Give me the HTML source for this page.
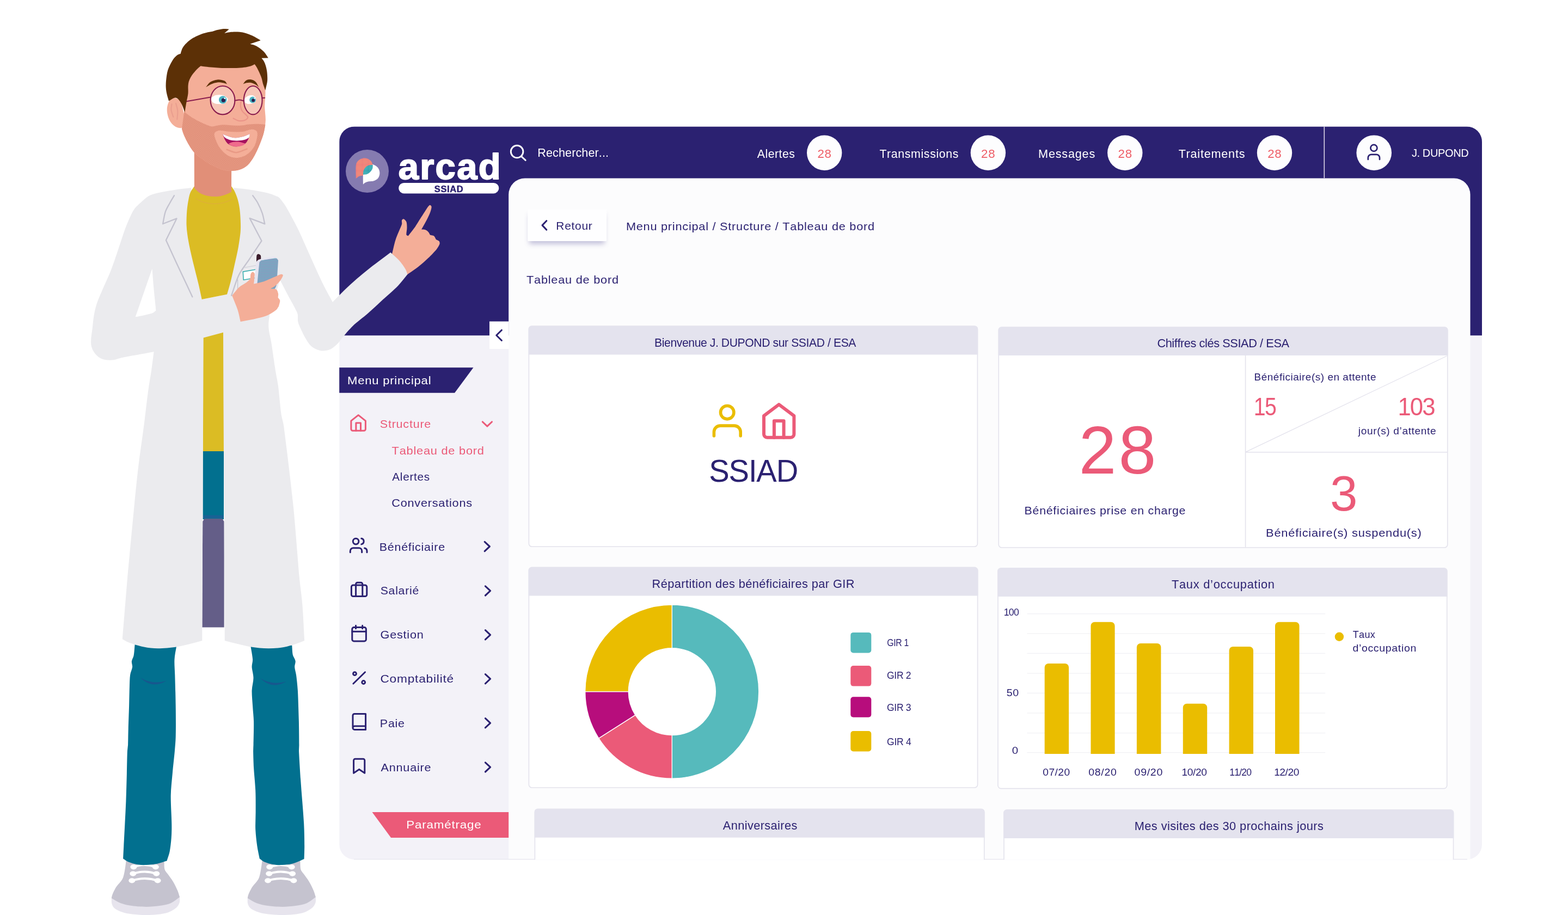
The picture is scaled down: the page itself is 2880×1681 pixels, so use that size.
<!DOCTYPE html>
<html lang="fr"><head><meta charset="utf-8"><title>arcad SSIAD - Tableau de bord</title>
<style>
html,body{margin:0;padding:0;background:#ffffff;}
body{width:2880px;height:1681px;overflow:hidden;}
svg{display:block;font-family:"Liberation Sans",Arial,Helvetica,sans-serif;font-kerning:none;}
text{white-space:pre;}
</style></head><body>
<svg width="2880" height="1681" viewBox="0 0 2880 1681">
<clipPath id="outer"><rect x="623.2" y="232.4" width="2098.8" height="1346.8" rx="28" ry="28"/></clipPath>
<g clip-path="url(#outer)">
<rect x="623.2" y="232.4" width="2098.8" height="1346.8" fill="#f3f2f8"/>
<rect x="623.2" y="232.4" width="2098.8" height="383.9" fill="#2b2171"/>
<path d="M934.2,1600 V357.5 a30,30 0 0 1 30,-30 H2670.5 a30,30 0 0 1 30,30 V1600 Z" fill="#fcfcfd"/>
</g>
<path d="M650,1578.6000000000001 H2695" stroke="#e6e5ee" stroke-width="1.2" fill="none"/>
<rect x="971.4" y="599" width="824.0000000000001" height="405.29999999999995" rx="5.5" fill="#ffffff" stroke="#e3e2ec" stroke-width="1.6"/>
<path d="M970.6,651.6 V604.5 a5.5,5.5 0 0 1 5.5,-5.5 H1790.7 a5.5,5.5 0 0 1 5.5,5.5 V651.6 Z" fill="#e4e3ee"/>
<text transform="translate(1203.80,637.10) scale(0.9717,1)" x="-1.79" y="0" font-size="21.80" fill="#2b2171" letter-spacing="-0.436" >Bienvenue J. DUPOND sur SSIAD / ESA</text>
<rect x="1834.3" y="601" width="824.3999999999999" height="405" rx="5.5" fill="#ffffff" stroke="#e3e2ec" stroke-width="1.6"/>
<path d="M1833.5,653 V606.5 a5.5,5.5 0 0 1 5.5,-5.5 H2654.0 a5.5,5.5 0 0 1 5.5,5.5 V653 Z" fill="#e4e3ee"/>
<text x="2125.39" y="637.90" font-size="21.80" fill="#2b2171" letter-spacing="-0.436" >Chiffres clés SSIAD / ESA</text>
<rect x="971.4" y="1042.4" width="824.1999999999999" height="404.5999999999999" rx="5.5" fill="#ffffff" stroke="#e3e2ec" stroke-width="1.6"/>
<path d="M970.6,1094.6 V1047.9 a5.5,5.5 0 0 1 5.5,-5.5 H1790.8999999999999 a5.5,5.5 0 0 1 5.5,5.5 V1094.6 Z" fill="#e4e3ee"/>
<text x="1197.61" y="1080.40" font-size="21.80" fill="#2b2171" letter-spacing="0.401" >Répartition des bénéficiaires par GIR</text>
<rect x="1833" y="1043.7" width="824.6999999999998" height="404.89999999999986" rx="5.5" fill="#ffffff" stroke="#e3e2ec" stroke-width="1.6"/>
<path d="M1832.2,1095.9 V1049.2 a5.5,5.5 0 0 1 5.5,-5.5 H2653.0 a5.5,5.5 0 0 1 5.5,5.5 V1095.9 Z" fill="#e4e3ee"/>
<text x="2151.91" y="1081.20" font-size="21.80" fill="#2b2171" letter-spacing="0.761" >Taux d’occupation</text>
<clipPath id="cb"><rect x="900" y="1400" width="1900" height="179.2"/></clipPath><g clip-path="url(#cb)">
<rect x="982.4" y="1486.2" width="825.4" height="213.79999999999995" rx="5.5" fill="#ffffff" stroke="#e3e2ec" stroke-width="1.6"/>
<path d="M981.6,1538.8 V1491.7 a5.5,5.5 0 0 1 5.5,-5.5 H1803.1 a5.5,5.5 0 0 1 5.5,5.5 V1538.8 Z" fill="#e4e3ee"/>
<text x="1327.76" y="1523.70" font-size="21.80" fill="#2b2171" letter-spacing="0.380" >Anniversaires</text>
<rect x="1844" y="1487.8" width="825.5" height="212.20000000000005" rx="5.5" fill="#ffffff" stroke="#e3e2ec" stroke-width="1.6"/>
<path d="M1843.2,1540 V1493.3 a5.5,5.5 0 0 1 5.5,-5.5 H2664.8 a5.5,5.5 0 0 1 5.5,5.5 V1540 Z" fill="#e4e3ee"/>
<text x="2083.71" y="1524.50" font-size="21.80" fill="#2b2171" letter-spacing="0.423" >Mes visites des 30 prochains jours</text>
</g>
<g id="logo">
<defs><pattern id="dots1" width="2.2" height="2.2" patternUnits="userSpaceOnUse"><rect width="2.2" height="2.2" fill="#f1907a"/><circle cx="1.1" cy="1.1" r="0.62" fill="#ee5f7c"/></pattern><pattern id="dots2" width="2.2" height="2.2" patternUnits="userSpaceOnUse"><rect width="2.2" height="2.2" fill="#55c3c6"/><circle cx="1.1" cy="1.1" r="0.72" fill="#0f7c93"/></pattern></defs>
<circle cx="674.5" cy="314.6" r="39.5" fill="#857bb0"/>
<path d="M666.9,338.7C666.9,332.5 666.5,325.1 666.9,320.2C667.2,316.6 667.5,312.4 669.3,309.5C671.1,306.6 674.8,304.2 677.6,303.0C680.2,301.9 683.3,301.5 686.0,302.4C688.7,303.3 692.4,305.8 694.3,308.3C696.2,310.9 697.4,314.7 697.4,317.9C697.4,321.0 696.2,325.0 694.3,327.4C692.4,329.8 688.7,331.4 686.0,332.4C683.3,333.3 680.2,332.8 677.6,333.3C675.2,333.9 672.3,334.8 670.5,335.7C669.1,336.4 668.1,337.7 666.9,338.7Z" fill="#ffffff"/>
<path d="M653.8,328.0C653.8,319.8 653.2,308.9 653.8,303.6C654.1,300.7 655.4,297.9 657.4,295.8C659.4,293.8 662.7,291.8 665.7,291.1C668.7,290.3 672.6,290.5 675.2,291.4C677.8,292.3 680.2,294.6 681.8,296.4C683.2,298.1 683.8,300.4 684.8,302.4C681.6,303.6 678.0,304.0 675.2,306.0C672.5,307.9 669.5,311.5 668.1,314.3C666.8,316.8 667.3,319.8 666.9,322.6C664.5,323.0 661.9,322.9 659.8,323.8C657.6,324.7 655.8,326.6 653.8,328.0Z" fill="url(#dots1)"/>
<path d="M666.9,320.8C667.2,318.3 667.0,315.5 667.9,313.1C668.8,310.7 670.4,308.2 672.3,306.5C674.1,304.9 676.7,303.9 678.8,303.3C680.7,302.8 682.8,303.0 684.8,302.9C684.6,305.1 684.9,307.4 684.2,309.5C683.4,311.7 681.7,314.3 680.0,316.1C678.3,317.8 676.2,319.2 674.0,320.0C671.9,320.8 669.3,320.6 666.9,320.8Z" fill="url(#dots2)"/>
</g>
<text transform="translate(733.60,328.60) scale(1.0065,1)" x="-1.95" y="0" font-size="66.50" fill="#ffffff" font-weight="700" letter-spacing="2.328" stroke="#ffffff" stroke-width="2" stroke-linejoin="round">arcad</text>
<rect x="732.2" y="336" width="184.1" height="19.4" rx="9.7" fill="#ffffff"/>
<text transform="translate(798.30,352.80) scale(1.0339,1)" x="-0.46" y="0" font-size="16.00" fill="#2b2171" font-weight="700" letter-spacing="0.560" stroke="#2b2171" stroke-width="0.4">SSIAD</text>
<circle cx="949.6" cy="278.6" r="11.3" fill="none" stroke="#ffffff" stroke-width="2.9"/>
<path d="M957.9,287.6 L965.2,294.4" stroke="#ffffff" stroke-width="2.9" stroke-linecap="round"/>
<text x="987.33" y="288.30" font-size="21.60" fill="#ffffff" letter-spacing="0.091" >Rechercher...</text>
<text x="1390.76" y="289.80" font-size="21.30" fill="#ffffff" letter-spacing="0.487" >Alertes</text>
<circle cx="1514.2" cy="280.7" r="32.2" fill="#fdfdfe"/>
<text transform="translate(1502.50,289.70) scale(1.0375,1)" x="-1.08" y="0" font-size="21.50" fill="#ee5d66" letter-spacing="0.753" >28</text>
<text x="1615.42" y="289.80" font-size="21.30" fill="#ffffff" letter-spacing="0.646" >Transmissions</text>
<circle cx="1814.9" cy="280.7" r="32.2" fill="#fdfdfe"/>
<text transform="translate(1803.20,289.70) scale(1.0375,1)" x="-1.08" y="0" font-size="21.50" fill="#ee5d66" letter-spacing="0.753" >28</text>
<text transform="translate(1908.90,289.80) scale(1.0183,1)" x="-1.75" y="0" font-size="21.30" fill="#ffffff" letter-spacing="0.746" >Messages</text>
<circle cx="2066.3" cy="280.7" r="32.2" fill="#fdfdfe"/>
<text transform="translate(2054.60,289.70) scale(1.0375,1)" x="-1.08" y="0" font-size="21.50" fill="#ee5d66" letter-spacing="0.753" >28</text>
<text transform="translate(2165.10,289.80) scale(1.0164,1)" x="-0.48" y="0" font-size="21.30" fill="#ffffff" letter-spacing="0.746" >Traitements</text>
<circle cx="2341" cy="280.7" r="32.2" fill="#fdfdfe"/>
<text transform="translate(2329.30,289.70) scale(1.0375,1)" x="-1.08" y="0" font-size="21.50" fill="#ee5d66" letter-spacing="0.753" >28</text>
<rect x="2431.5" y="232.4" width="1.6" height="94.8" fill="#ddd6e6"/>
<circle cx="2523.7" cy="280.7" r="32.3" fill="#fdfdfe"/>
<circle cx="2523.4" cy="271.9" r="6" fill="none" stroke="#2b2171" stroke-width="2.7"/>
<path d="M2512.8,293 v-3.2 a6,6 0 0 1 6,-6 h9.2 a6,6 0 0 1 6,6 v3.2" fill="none" stroke="#2b2171" stroke-width="2.7" stroke-linecap="round"/>
<text transform="translate(2593.20,288.30) scale(0.9505,1)" x="-0.33" y="0" font-size="21.10" fill="#ffffff" letter-spacing="-0.422" >J. DUPOND</text>
<rect x="899" y="590.5" width="35.4" height="50.6" fill="#ffffff"/>
<path d="M921.4,606.5 L911.8000000000001,616 L921.4,625.5" fill="none" stroke="#2b2171" stroke-width="3.1" stroke-linecap="round" stroke-linejoin="round"/>
<path d="M623.2,675.2 H869.5 L835.1,721.8 H623.2 Z" fill="#2b2171"/>
<text transform="translate(639.80,705.90) scale(1.0767,1)" x="-1.68" y="0" font-size="20.50" fill="#ffffff" letter-spacing="0.718" >Menu principal</text>
<g stroke="#eb5a78" fill="none" stroke-width="3" stroke-linecap="round" stroke-linejoin="round"><path d="M644.9,773.2 L658.2,762.6 L671.4,773.2 V788.2 a3,3 0 0 1 -3,3 H647.9 a3,3 0 0 1 -3,-3 Z"/><path d="M653.9,791.2 V777 H662.5 V791.2"/></g>
<text transform="translate(698.70,786.30) scale(1.0532,1)" x="-0.93" y="0" font-size="20.50" fill="#eb5a78" letter-spacing="0.718" >Structure</text>
<path d="M886.3,775 L894.9,783.2 L903.5,775" fill="none" stroke="#eb5a78" stroke-width="3.1" stroke-linecap="round" stroke-linejoin="round"/>
<text transform="translate(720.10,834.50) scale(1.0630,1)" x="-0.46" y="0" font-size="20.50" fill="#eb5a78" letter-spacing="0.718" >Tableau de bord</text>
<text transform="translate(720.30,882.80) scale(1.0115,1)" x="-0.04" y="0" font-size="20.50" fill="#2b2171" letter-spacing="0.718" >Alertes</text>
<text transform="translate(720.30,931.00) scale(1.0590,1)" x="-1.04" y="0" font-size="20.50" fill="#2b2171" letter-spacing="0.718" >Conversations</text>
<g stroke="#2b2171" fill="none" stroke-width="3" stroke-linecap="round" stroke-linejoin="round"><circle cx="653.6" cy="994.6" r="5.3"/><path d="M643.3,1014.8 v-2.6 a5.4,5.4 0 0 1 5.4,-5.4 h10.6 a5.4,5.4 0 0 1 5.4,5.4 v2.6"/><path d="M663.8,989.3 a5.4,5.4 0 0 1 0,10.6"/><path d="M669.6,1007 a5.5,5.5 0 0 1 4.4,5.3 v2.5"/></g>
<text transform="translate(698.50,1011.60) scale(1.0470,1)" x="-1.68" y="0" font-size="20.50" fill="#2b2171" letter-spacing="0.718" >Bénéficiaire</text>
<path d="M890.1999999999999,995.4 L899.4,1004 L890.1999999999999,1012.6" fill="none" stroke="#2b2171" stroke-width="3.1" stroke-linecap="round" stroke-linejoin="round"/>
<g stroke="#2b2171" fill="none" stroke-width="3" stroke-linecap="round" stroke-linejoin="round"><rect x="645.4" y="1075" width="28.4" height="20.6" rx="3.2"/><path d="M653.6,1095.6 V1073.2 a3,3 0 0 1 3,-3 h6.2 a3,3 0 0 1 3,3 V1095.6"/></g>
<text transform="translate(699.60,1092.40) scale(1.0381,1)" x="-0.93" y="0" font-size="20.50" fill="#2b2171" letter-spacing="0.718" >Salarié</text>
<path d="M891.4,1076.8000000000002 L900.6,1085.4 L891.4,1094.0" fill="none" stroke="#2b2171" stroke-width="3.1" stroke-linecap="round" stroke-linejoin="round"/>
<g stroke="#2b2171" fill="none" stroke-width="3" stroke-linecap="round" stroke-linejoin="round"><rect x="646.8" y="1152.6" width="25.6" height="25.4" rx="3.2"/><path d="M653.5,1149.2 v5.6 M665.7,1149.2 v5.6 M646.8,1160.3 h25.6"/></g>
<text transform="translate(699.60,1173.30) scale(1.0580,1)" x="-1.03" y="0" font-size="20.50" fill="#2b2171" letter-spacing="0.718" >Gestion</text>
<path d="M891.4,1157.7 L900.6,1166.3 L891.4,1174.8999999999999" fill="none" stroke="#2b2171" stroke-width="3.1" stroke-linecap="round" stroke-linejoin="round"/>
<g stroke="#2b2171" fill="none" stroke-width="3" stroke-linecap="round" stroke-linejoin="round"><circle cx="651.5" cy="1237.7" r="2.9"/><circle cx="667.7" cy="1253.5" r="2.9"/><path d="M670.6,1234.8 L648.9,1256"/></g>
<text transform="translate(699.60,1254.20) scale(1.1069,1)" x="-1.04" y="0" font-size="20.50" fill="#2b2171" letter-spacing="0.718" >Comptabilité</text>
<path d="M891.4,1238.6000000000001 L900.6,1247.2 L891.4,1255.8" fill="none" stroke="#2b2171" stroke-width="3.1" stroke-linecap="round" stroke-linejoin="round"/>
<g stroke="#2b2171" fill="none" stroke-width="3" stroke-linecap="round" stroke-linejoin="round"><path d="M648,1337.2 V1314.5 a3,3 0 0 1 3,-3 H671.6 V1340.5 H651.3 a3.3,3.3 0 0 1 0,-6.6 H671.6"/></g>
<text transform="translate(699.60,1336.00) scale(1.0446,1)" x="-1.68" y="0" font-size="20.50" fill="#2b2171" letter-spacing="0.718" >Paie</text>
<path d="M891.4,1319.7 L900.6,1328.3 L891.4,1336.8999999999999" fill="none" stroke="#2b2171" stroke-width="3.1" stroke-linecap="round" stroke-linejoin="round"/>
<g stroke="#2b2171" fill="none" stroke-width="3" stroke-linecap="round" stroke-linejoin="round"><path d="M649.6,1420.3 V1397 a2.8,2.8 0 0 1 2.8,-2.8 h14.6 a2.8,2.8 0 0 1 2.8,2.8 V1420.3 L659.7,1413.4 Z"/></g>
<text transform="translate(699.60,1417.10) scale(1.0565,1)" x="-0.04" y="0" font-size="20.50" fill="#2b2171" letter-spacing="0.718" >Annuaire</text>
<path d="M891.4,1400.8000000000002 L900.6,1409.4 L891.4,1418.0" fill="none" stroke="#2b2171" stroke-width="3.1" stroke-linecap="round" stroke-linejoin="round"/>
<path d="M683.5,1492.1 H934.2 V1538.9 H718.1 Z" fill="#eb5a78"/>
<text transform="translate(748.10,1521.90) scale(1.0927,1)" x="-1.68" y="0" font-size="20.50" fill="#ffffff" letter-spacing="0.718" >Paramétrage</text>
<defs><filter id="sh" x="-20%" y="-30%" width="140%" height="180%"><feGaussianBlur in="SourceAlpha" stdDeviation="5"/><feOffset dx="0" dy="5"/><feComponentTransfer><feFuncA type="linear" slope="0.22"/></feComponentTransfer><feFlood flood-color="#6a62a0" result="c"/><feComposite in="c" in2="SourceAlpha" operator="in"/></filter></defs>
<rect x="972" y="394" width="138.5" height="54" fill="#4a4290" opacity="0.33" filter="url(#blur5)"/>
<defs><filter id="blur5" x="-30%" y="-50%" width="160%" height="220%"><feGaussianBlur stdDeviation="5"/></filter></defs>
<rect x="969.2" y="384.7" width="145" height="58.3" rx="1.5" fill="#fefeff"/>
<path d="M1003.8,405.7 L996,413.9 L1003.8,422.1" fill="none" stroke="#2b2171" stroke-width="3" stroke-linecap="round" stroke-linejoin="round"/>
<text transform="translate(1023.00,421.80) scale(1.0173,1)" x="-1.69" y="0" font-size="20.60" fill="#2b2171" letter-spacing="0.721" >Retour</text>
<text transform="translate(1151.70,423.40) scale(1.0539,1)" x="-1.69" y="0" font-size="20.60" fill="#2b2171" letter-spacing="0.721" >Menu principal / Structure / Tableau de bord</text>
<text transform="translate(967.50,520.90) scale(1.0560,1)" x="-0.46" y="0" font-size="20.60" fill="#2b2171" letter-spacing="0.721" >Tableau de bord</text>
<g stroke="#eabd00" stroke-width="5.6" fill="none" stroke-linecap="round" stroke-linejoin="round"><circle cx="1335.7" cy="757.7" r="12.2"/><path d="M1311.4,800.8 v-7.2 a11.5,11.5 0 0 1 11.5,-11.5 h25.8 a11.5,11.5 0 0 1 11.5,11.5 v7.2"/></g>
<g stroke="#eb5a78" stroke-width="6" fill="none" stroke-linecap="round" stroke-linejoin="round"><path d="M1403,764 L1430.7,743.2 L1458.4,764 V797.7 a6,6 0 0 1 -6,6 H1409 a6,6 0 0 1 -6,-6 Z"/><path d="M1421.9,803.7 V773.2 H1439.6 V803.7"/></g>
<text transform="translate(1304.80,884.80) scale(0.9852,1)" x="-2.59" y="0" font-size="57.00" fill="#2b2171" letter-spacing="-1.140" >SSIAD</text>
<path d="M2287.6,653 V1005.2 M2287.6,830.7 H2658" stroke="#e3e2ec" stroke-width="1.6" fill="none"/>
<path d="M2288.5,830.2 L2657.5,654" stroke="#e3e2ec" stroke-width="1.3" fill="none"/>
<text x="1981.56" y="870.30" font-size="124.00" fill="#eb5a78" letter-spacing="3.999" >28</text>
<text transform="translate(1883.30,945.40) scale(1.0113,1)" x="-1.73" y="0" font-size="21.10" fill="#2b2171" letter-spacing="0.739" >Bénéficiaires prise en charge</text>
<text x="2303.55" y="698.90" font-size="18.90" fill="#2b2171" letter-spacing="0.555" >Bénéficiaire(s) en attente</text>
<text transform="translate(2305.80,763.00) scale(0.8618,1)" x="-3.47" y="0" font-size="45.60" fill="#eb5a78" letter-spacing="-2.052" >15</text>
<text transform="translate(2570.80,763.00) scale(0.9579,1)" x="-3.47" y="0" font-size="45.60" fill="#eb5a78" letter-spacing="-2.052" >103</text>
<text transform="translate(2494.30,797.80) scale(1.0069,1)" x="0.46" y="0" font-size="18.90" fill="#2b2171" letter-spacing="0.661" >jour(s) d’attente</text>
<text transform="translate(2446.50,938.10) scale(0.9912,1)" x="-3.48" y="0" font-size="91.50" fill="#eb5a78" letter-spacing="0.000" >3</text>
<text transform="translate(2326.90,986.00) scale(1.0352,1)" x="-1.73" y="0" font-size="21.10" fill="#2b2171" letter-spacing="0.739" >Bénéficiaire(s) suspendu(s)</text>
<path d="M1234.30,1111.00 A159.6,159.6 0 0 1 1234.30,1430.20 L1234.30,1350.60 A80.0,80.0 0 0 0 1234.30,1190.60 Z" fill="#56babc" stroke="#ffffff" stroke-width="1.4" stroke-linejoin="round"/>
<path d="M1234.30,1430.20 A159.6,159.6 0 0 1 1099.69,1356.35 L1166.83,1313.58 A80.0,80.0 0 0 0 1234.30,1350.60 Z" fill="#eb5a78" stroke="#ffffff" stroke-width="1.4" stroke-linejoin="round"/>
<path d="M1099.69,1356.35 A159.6,159.6 0 0 1 1074.70,1270.60 L1154.30,1270.60 A80.0,80.0 0 0 0 1166.83,1313.58 Z" fill="#b70d7c" stroke="#ffffff" stroke-width="1.4" stroke-linejoin="round"/>
<path d="M1074.70,1270.60 A159.6,159.6 0 0 1 1234.30,1111.00 L1234.30,1190.60 A80.0,80.0 0 0 0 1154.30,1270.60 Z" fill="#eabd00" stroke="#ffffff" stroke-width="1.4" stroke-linejoin="round"/>
<rect x="1562.3" y="1161.9" width="38" height="37.5" rx="5" fill="#56babc"/>
<rect x="1562.3" y="1223.1" width="38" height="37.5" rx="5" fill="#eb5a78"/>
<rect x="1562.3" y="1280.2" width="38" height="37.5" rx="5" fill="#b70d7c"/>
<rect x="1562.3" y="1343" width="38" height="37.5" rx="5" fill="#eabd00"/>
<text transform="translate(1630.00,1187.00) scale(0.9020,1)" x="-0.88" y="0" font-size="17.50" fill="#2b2171" letter-spacing="-0.350" >GIR 1</text>
<text x="1629.12" y="1246.90" font-size="17.50" fill="#2b2171" letter-spacing="-0.350" >GIR 2</text>
<text x="1629.12" y="1305.70" font-size="17.50" fill="#2b2171" letter-spacing="-0.350" >GIR 3</text>
<text x="1629.12" y="1368.50" font-size="17.50" fill="#2b2171" letter-spacing="-0.253" >GIR 4</text>
<rect x="1886.5" y="1127.1000000000001" width="547.7" height="1.2" fill="#f0f0f4"/>
<rect x="1886.5" y="1163.4" width="547.7" height="1.2" fill="#f0f0f4"/>
<rect x="1886.5" y="1199.7" width="547.7" height="1.2" fill="#f0f0f4"/>
<rect x="1886.5" y="1236.4" width="547.7" height="1.2" fill="#f0f0f4"/>
<rect x="1886.5" y="1272.7" width="547.7" height="1.2" fill="#f0f0f4"/>
<rect x="1886.5" y="1309.4" width="547.7" height="1.2" fill="#f0f0f4"/>
<rect x="1886.5" y="1346.1000000000001" width="547.7" height="1.2" fill="#f0f0f4"/>
<rect x="1886.5" y="1382.0" width="547.7" height="1.2" fill="#f0f0f4"/>
<path d="M1918.7,1385 V1226 a7,7 0 0 1 7,-7 H1956.1 a7,7 0 0 1 7,7 V1385 Z" fill="#eabd00"/>
<path d="M2003.5,1385 V1149.8 a7,7 0 0 1 7,-7 H2040.6 a7,7 0 0 1 7,7 V1385 Z" fill="#eabd00"/>
<path d="M2087.9,1385 V1188.9 a7,7 0 0 1 7,-7 H2125.4 a7,7 0 0 1 7,7 V1385 Z" fill="#eabd00"/>
<path d="M2172.8,1385 V1299.8 a7,7 0 0 1 7,-7 H2210.2 a7,7 0 0 1 7,7 V1385 Z" fill="#eabd00"/>
<path d="M2257.6,1385 V1195 a7,7 0 0 1 7,-7 H2295 a7,7 0 0 1 7,7 V1385 Z" fill="#eabd00"/>
<path d="M2342,1385 V1149.8 a7,7 0 0 1 7,-7 H2379.5 a7,7 0 0 1 7,7 V1385 Z" fill="#eabd00"/>
<text x="1843.65" y="1130.70" font-size="17.70" fill="#2b2171" letter-spacing="-0.646" >100</text>
<text transform="translate(1849.50,1278.60) scale(1.1107,1)" x="-0.71" y="0" font-size="17.70" fill="#2b2171" letter-spacing="0.620" >50</text>
<text transform="translate(1859.50,1385.00) scale(1.1582,1)" x="-0.69" y="0" font-size="17.70" fill="#2b2171" letter-spacing="0.000" >0</text>
<text x="1915.35" y="1425.40" font-size="19.20" fill="#2b2171" letter-spacing="0.438" >07/20</text>
<text transform="translate(2000.10,1425.40) scale(1.0135,1)" x="-0.75" y="0" font-size="19.20" fill="#2b2171" letter-spacing="0.672" >08/20</text>
<text transform="translate(2084.30,1425.40) scale(1.0216,1)" x="-0.75" y="0" font-size="19.20" fill="#2b2171" letter-spacing="0.672" >09/20</text>
<text x="2170.54" y="1425.40" font-size="19.20" fill="#2b2171" letter-spacing="-0.384" >10/20</text>
<text transform="translate(2259.50,1425.40) scale(0.9156,1)" x="-1.46" y="0" font-size="19.20" fill="#2b2171" letter-spacing="-0.864" >11/20</text>
<text x="2340.14" y="1425.40" font-size="19.20" fill="#2b2171" letter-spacing="-0.459" >12/20</text>
<circle cx="2459.9" cy="1169.7" r="8.2" fill="#eabd00"/>
<text x="2484.80" y="1171.90" font-size="18.00" fill="#2b2171" letter-spacing="0.294" >Taux</text>
<text transform="translate(2485.20,1197.00) scale(1.0822,1)" x="-0.76" y="0" font-size="18.00" fill="#2b2171" letter-spacing="0.630" >d’occupation</text>
<g id="character">
<defs><pattern id="pbeard" width="3.4" height="3.4" patternUnits="userSpaceOnUse"><rect width="3.4" height="3.4" fill="#e08d76"/><circle cx="0.85" cy="0.85" r="0.55" fill="#f3b7a3"/><circle cx="2.55" cy="2.55" r="0.55" fill="#f3b7a3"/></pattern><pattern id="pphone" width="3" height="3" patternUnits="userSpaceOnUse"><rect width="3" height="3" fill="#9a8ebd"/><path d="M0,0.6 L1.5,2.1 L3,0.6" stroke="#5fbcc4" stroke-width="1.05" fill="none"/></pattern><pattern id="psole" width="3" height="3" patternUnits="userSpaceOnUse"><rect width="3" height="3" fill="#e6e4ee"/><circle cx="1.5" cy="1.5" r="0.5" fill="#f0e6e4"/></pattern></defs>
<path d="M204.8,1650.1C205.0,1653.6 204.4,1657.5 205.5,1660.7C206.5,1664.0 208.5,1667.5 211.4,1669.5C215.1,1672.2 222.0,1675.1 227.8,1676.7C233.9,1678.4 241.4,1679.3 248.2,1680.0C255.0,1680.7 261.9,1681.0 268.7,1681.0C275.5,1681.0 282.4,1680.8 289.1,1680.0C296.0,1679.1 303.8,1678.0 309.6,1675.9C314.8,1674.0 320.6,1670.4 323.9,1667.5C326.6,1665.1 328.6,1661.5 329.7,1658.3C330.7,1655.0 329.9,1651.5 330.1,1648.1C324.6,1647.4 319.2,1646.2 313.7,1646.0C303.5,1645.7 283.7,1646.0 268.7,1646.0C253.3,1646.0 232.3,1645.3 221.6,1646.0C215.9,1646.4 210.4,1648.7 204.8,1650.1Z" fill="url(#psole)" />
<path d="M231.8,1580.5C230.8,1587.4 230.0,1595.2 228.8,1601.0C227.8,1605.9 227.0,1610.9 224.7,1615.3C222.1,1620.1 216.5,1624.9 213.4,1629.6C210.5,1634.1 207.7,1640.6 206.3,1644.0C205.5,1645.9 205.3,1648.1 204.8,1650.1C210.4,1653.2 215.6,1657.1 221.6,1659.3C227.8,1661.6 235.1,1663.1 242.1,1664.0C249.9,1665.1 260.2,1665.9 268.7,1665.9C276.9,1665.9 285.7,1665.1 293.2,1664.0C300.2,1663.0 307.6,1662.0 313.7,1659.3C319.8,1656.7 324.6,1651.8 330.1,1648.1C328.7,1644.0 327.7,1639.7 326.0,1635.8C323.9,1631.0 320.9,1624.5 317.8,1619.4C314.8,1614.4 310.1,1608.8 307.6,1605.1C305.7,1602.4 303.2,1600.0 302.4,1596.9C301.4,1592.8 301.8,1586.0 301.4,1580.5L231.8,1580.5Z" fill="#c5c3cf" />
<path d="M245.4,1592.8 Q265.6,1585.4 285.9,1592.8" fill="none" stroke="#ffffff" stroke-width="4" stroke-linecap="round"/>
<ellipse cx="245.4" cy="1592.8" rx="6" ry="4.6" fill="#ffffff"/>
<ellipse cx="285.9" cy="1592.8" rx="6" ry="4.6" fill="#ffffff"/>
<path d="M244.3,1605.1 Q265.8,1597.7 287.3,1605.1" fill="none" stroke="#ffffff" stroke-width="4" stroke-linecap="round"/>
<ellipse cx="244.3" cy="1605.1" rx="6" ry="4.6" fill="#ffffff"/>
<ellipse cx="287.3" cy="1605.1" rx="6" ry="4.6" fill="#ffffff"/>
<path d="M242.3,1617.8 Q265.9,1610.4 289.6,1617.8" fill="none" stroke="#ffffff" stroke-width="4" stroke-linecap="round"/>
<ellipse cx="242.3" cy="1617.8" rx="6" ry="4.6" fill="#ffffff"/>
<ellipse cx="289.6" cy="1617.8" rx="6" ry="4.6" fill="#ffffff"/>
<path d="M454.7,1650.1C454.9,1653.6 454.2,1657.5 455.3,1660.7C456.4,1664.0 458.4,1667.5 461.2,1669.5C464.9,1672.2 471.9,1675.1 477.6,1676.7C483.7,1678.4 491.2,1679.3 498.1,1680.0C504.9,1680.7 511.7,1681.0 518.5,1681.0C525.3,1681.0 532.2,1680.8 539.0,1680.0C545.8,1679.1 553.7,1678.0 559.5,1675.9C564.7,1674.0 570.4,1670.4 573.8,1667.5C576.5,1665.1 578.5,1661.5 579.5,1658.3C580.5,1655.0 579.8,1651.5 579.9,1648.1C574.5,1647.4 569.0,1646.2 563.5,1646.0C553.3,1645.7 533.5,1646.0 518.5,1646.0C503.2,1646.0 482.1,1645.3 471.5,1646.0C465.7,1646.4 460.3,1648.7 454.7,1650.1Z" fill="url(#psole)" />
<path d="M481.7,1580.5C480.7,1587.4 479.8,1595.2 478.6,1601.0C477.6,1605.9 476.9,1610.9 474.5,1615.3C472.0,1620.1 466.3,1624.9 463.3,1629.6C460.4,1634.1 457.5,1640.6 456.1,1644.0C455.3,1645.9 455.2,1648.1 454.7,1650.1C460.3,1653.2 465.5,1657.1 471.5,1659.3C477.7,1661.6 485.0,1663.1 491.9,1664.0C499.8,1665.1 510.0,1665.9 518.5,1665.9C526.7,1665.9 535.6,1665.1 543.1,1664.0C550.0,1663.0 557.4,1662.0 563.5,1659.3C569.6,1656.7 574.5,1651.8 579.9,1648.1C578.5,1644.0 577.5,1639.7 575.8,1635.8C573.8,1631.0 570.7,1624.5 567.6,1619.4C564.6,1614.4 560.0,1608.8 557.4,1605.1C555.6,1602.4 553.1,1600.0 552.3,1596.9C551.3,1592.8 551.6,1586.0 551.3,1580.5L481.7,1580.5Z" fill="#c5c3cf" />
<path d="M495.2,1592.8 Q515.5,1585.4 535.7,1592.8" fill="none" stroke="#ffffff" stroke-width="4" stroke-linecap="round"/>
<ellipse cx="495.2" cy="1592.8" rx="6" ry="4.6" fill="#ffffff"/>
<ellipse cx="535.7" cy="1592.8" rx="6" ry="4.6" fill="#ffffff"/>
<path d="M494.2,1605.1 Q515.7,1597.7 537.1,1605.1" fill="none" stroke="#ffffff" stroke-width="4" stroke-linecap="round"/>
<ellipse cx="494.2" cy="1605.1" rx="6" ry="4.6" fill="#ffffff"/>
<ellipse cx="537.1" cy="1605.1" rx="6" ry="4.6" fill="#ffffff"/>
<path d="M492.1,1617.8 Q515.8,1610.4 539.4,1617.8" fill="none" stroke="#ffffff" stroke-width="4" stroke-linecap="round"/>
<ellipse cx="492.1" cy="1617.8" rx="6" ry="4.6" fill="#ffffff"/>
<ellipse cx="539.4" cy="1617.8" rx="6" ry="4.6" fill="#ffffff"/>
<path d="M247.6,1184.2C247.0,1190.8 246.6,1199.1 245.6,1204.2C245.0,1207.8 242.4,1211.2 241.9,1214.7C241.5,1218.3 243.5,1222.0 243.1,1225.6C242.6,1229.8 239.8,1235.0 239.1,1239.9C238.2,1246.1 238.2,1255.1 237.9,1262.7C237.6,1272.2 237.4,1285.5 237.1,1297.0C236.7,1309.8 236.0,1327.9 235.7,1339.8C235.4,1349.3 235.4,1361.6 235.1,1368.3C234.9,1372.2 234.1,1376.1 233.9,1380.0C233.5,1388.8 233.2,1407.3 232.9,1420.9C232.5,1436.3 232.0,1456.7 231.4,1472.1C230.9,1485.7 230.1,1499.4 229.4,1513.0C228.7,1526.6 227.9,1543.2 227.3,1553.9C226.9,1561.8 226.5,1569.6 226.1,1577.5C229.4,1579.5 232.4,1582.1 235.9,1583.6C240.3,1585.4 246.9,1587.4 252.3,1588.3C257.7,1589.2 263.2,1589.4 268.7,1589.1C274.8,1588.9 282.8,1587.9 289.1,1586.7C295.1,1585.5 300.7,1583.3 306.5,1581.6C308.2,1575.8 310.5,1570.1 311.7,1564.2C313.0,1557.2 314.1,1547.8 314.7,1539.6C315.3,1531.1 315.5,1521.9 315.3,1513.0C315.2,1500.0 313.5,1477.2 313.7,1461.8C313.9,1448.2 315.6,1434.6 316.8,1420.9C318.0,1407.3 319.9,1391.1 320.9,1380.0C321.6,1371.4 322.5,1362.7 322.7,1354.1C323.1,1340.2 323.0,1316.0 322.7,1297.0C322.5,1277.9 321.7,1254.1 321.3,1239.9C321.1,1230.3 320.0,1220.1 320.5,1211.3C320.9,1203.1 322.9,1195.1 324.2,1187.0L247.6,1184.2Z" fill="#02708f" />
<path d="M460.4,1187.0C461.6,1195.1 463.7,1204.9 464.1,1211.3C464.4,1216.1 462.4,1220.8 462.6,1225.6C462.9,1231.3 465.5,1238.8 465.5,1245.6C465.5,1252.7 462.9,1260.7 462.6,1268.4C462.4,1277.0 463.5,1287.5 464.1,1297.0C464.6,1306.5 465.9,1316.0 466.1,1325.5C466.3,1337.4 465.7,1359.3 465.5,1368.3C465.4,1372.2 465.1,1376.1 465.1,1380.0C465.2,1387.1 465.6,1400.5 466.1,1410.7C466.8,1422.6 468.6,1438.0 469.2,1451.6C469.8,1465.2 469.6,1480.6 469.6,1492.5C469.6,1502.8 468.8,1513.0 469.2,1523.2C469.7,1533.5 471.0,1544.9 472.3,1553.9C473.4,1561.8 475.3,1569.6 476.8,1577.5C479.7,1579.5 482.3,1582.2 485.6,1583.6C489.8,1585.4 496.5,1587.4 502.0,1588.3C507.3,1589.2 512.9,1589.4 518.3,1589.1C524.5,1588.8 532.1,1588.1 538.8,1586.3C545.5,1584.4 552.0,1580.8 558.6,1578.1C558.8,1570.0 559.3,1562.0 559.2,1553.9C559.2,1543.1 558.9,1526.6 558.2,1513.0C557.5,1499.4 556.2,1485.7 555.2,1472.1C554.1,1458.4 553.0,1444.8 552.1,1431.2C551.1,1415.8 549.5,1390.5 549.0,1380.0C548.9,1376.1 549.5,1372.2 549.4,1368.3C549.4,1359.3 549.2,1339.8 548.9,1325.5C548.4,1308.9 547.7,1282.7 546.9,1268.4C546.3,1258.9 545.0,1247.0 544.0,1239.9C543.4,1235.1 541.4,1229.9 541.2,1225.6C540.9,1221.8 543.2,1218.0 542.6,1214.2C542.0,1210.4 538.6,1206.8 537.7,1202.7C536.7,1198.0 536.8,1191.3 536.3,1185.6L460.4,1187.0Z" fill="#02708f" />
<path d="M257.9,1245.0 Q278.9,1266.4 305.6,1250.7 Q278.9,1258.4 257.9,1245.0Z" fill="#1f4f8e" opacity="0.75"/>
<path d="M478.3,1246.1 Q499.0,1267.6 525.5,1251.9 Q499.0,1259.6 478.3,1246.1Z" fill="#1f4f8e" opacity="0.75"/>
<path d="M720.0,466.7C721.3,461.4 722.5,455.9 723.7,450.9C724.9,446.3 726.1,441.6 727.7,437.1C729.3,432.5 731.7,427.4 733.4,423.2C735.0,419.4 737.3,414.7 738.1,411.7C738.6,409.4 737.5,406.3 738.1,404.7C738.6,403.4 740.4,401.9 741.8,402.4C743.2,402.9 745.6,405.3 746.4,407.5C747.4,410.2 747.5,414.9 747.5,418.6C747.5,422.6 746.0,428.8 746.4,431.3C746.6,432.6 748.5,432.8 749.6,433.6C753.5,428.6 757.6,423.8 761.2,418.6C765.0,413.1 769.1,406.3 772.7,400.6C776.2,395.2 780.4,388.3 783.1,384.4C784.9,381.8 787.3,377.8 788.9,377.0C790.3,376.3 792.5,378.2 792.6,379.8C792.8,381.9 791.5,386.5 790.3,389.7C788.8,393.9 785.9,399.8 783.4,404.7C780.7,410.0 777.2,415.8 774.1,421.4C776.4,421.6 778.7,421.3 780.8,422.1C782.9,422.8 785.1,424.4 786.6,426.0C788.1,427.6 788.9,429.8 790.1,431.8C792.4,432.4 795.2,432.3 797.0,433.6C798.8,435.0 799.6,437.8 800.9,439.9C802.8,440.9 805.4,441.6 806.5,443.1C807.6,444.6 808.0,446.8 807.4,448.6C806.6,451.1 804.1,455.1 801.9,457.9C798.4,462.1 792.0,468.9 786.6,474.1C781.0,479.5 774.6,485.2 768.1,490.2C761.6,495.3 754.6,499.8 747.8,504.6C745.3,502.9 742.4,501.7 740.4,499.5C737.2,495.9 732.3,488.3 728.8,483.3C725.7,478.7 721.0,472.2 719.6,469.4C719.1,468.6 719.9,467.6 720.0,466.7Z" fill="#f4ae98" />
<rect x="372.6" y="600" width="38.4" height="230" fill="#dbbc24"/>
<rect x="372.6" y="829" width="38.4" height="125" fill="#02708f"/>
<path d="M372.2,958 L375.5,952.7 H408.3 L411.6,958 V1152.6 H371.4 Z" fill="#645e88"/>
<rect x="373" y="946.5" width="37.6" height="5.5" fill="#1f5f96" opacity="0.8"/>
<path d="M351.1,345.0C340.7,346.3 330.2,347.3 319.9,348.9C309.5,350.5 296.6,352.7 288.7,354.7C283.1,356.0 277.5,357.6 272.5,360.4C267.5,363.3 262.9,368.2 258.6,372.0C254.6,375.7 250.3,379.2 247.1,383.6C243.8,388.0 241.4,393.4 239.0,398.6C235.9,405.3 231.7,415.4 228.6,424.0C224.9,434.0 221.0,447.2 217.0,458.7C212.8,471.0 208.2,485.3 203.2,498.0C198.2,510.5 191.2,524.9 187.0,535.0C183.7,542.6 180.2,550.5 177.7,558.1C175.4,565.4 173.7,572.9 172.4,580.4C171.1,588.0 170.5,596.7 169.7,603.5C169.0,609.4 167.8,616.2 167.4,621.2C167.1,625.3 166.9,629.8 167.4,633.4C167.9,636.7 168.9,639.9 170.4,642.9C172.0,646.1 174.7,649.9 177.2,652.5C179.6,655.0 182.4,657.1 185.4,658.6C188.3,660.1 191.6,660.9 194.9,661.3C198.8,661.8 204.2,661.9 208.5,661.3C212.7,660.7 216.6,658.8 220.7,657.9C226.8,656.5 237.0,654.6 245.2,653.1C255.5,651.2 270.1,648.6 282.6,646.3C281.0,658.3 279.5,670.7 277.8,682.4C276.1,693.8 273.9,705.0 272.4,716.4C270.1,733.1 267.1,760.7 264.2,782.8C260.9,808.1 256.1,839.9 252.8,868.4C249.5,896.9 247.0,925.5 244.2,954.1C241.1,986.0 236.6,1033.8 234.2,1060.0C232.7,1077.1 231.4,1094.3 229.9,1111.4C228.4,1130.4 226.5,1153.3 224.8,1174.2C228.4,1176.1 231.8,1178.5 235.7,1179.9C242.2,1182.3 255.2,1186.6 264.2,1188.5C272.6,1190.2 281.3,1191.3 289.9,1191.3C299.9,1191.3 314.2,1189.9 324.2,1188.5C332.9,1187.2 342.0,1184.7 349.9,1182.8C357.0,1181.0 364.1,1179.0 371.3,1177.0L371.3,1152.8L373.3,725.7L373.7,620.5L410.0,610.8L441.7,590.9L426.2,543.0L417.0,540.7L370.7,550.0L358.0,435.6L351.1,345.0Z" fill="#ebebee" />
<path d="M279.4,493.8C280.4,505.2 281.4,518.5 282.2,528.0C282.9,535.7 283.8,544.0 284.5,551.1C285.2,557.7 285.8,564.2 286.4,570.8C284.4,572.2 282.8,574.1 280.6,574.9C277.1,576.3 270.6,577.7 265.6,578.9C260.3,580.1 254.3,581.2 248.7,582.3L279.4,493.8Z" fill="#ffffff" />
<path d="M429.7,345.0C440.5,346.3 451.6,347.3 462.0,348.9C472.1,350.5 484.0,352.6 492.1,354.7C498.4,356.3 506.9,360.0 510.6,361.6C511.9,362.2 512.9,363.2 513.9,364.3C515.8,366.4 519.6,371.4 522.0,374.7C524.1,377.6 526.0,380.7 527.7,383.9C531.8,391.2 540.5,406.8 546.2,418.6C553.2,432.8 561.6,452.5 569.3,469.4C577.0,486.4 585.5,506.0 592.5,520.3C598.2,532.1 604.8,543.4 610.9,555.0C620.2,545.7 629.1,536.1 638.7,527.2C649.1,517.6 661.5,506.8 673.4,497.2C686.4,486.6 702.6,474.8 717.3,463.7C722.7,468.7 728.8,473.5 733.4,478.7C737.8,483.6 742.5,490.6 745.0,494.9C746.7,497.7 747.3,501.0 748.5,504.1C742.7,511.0 737.4,518.4 731.1,524.9C723.6,532.6 712.6,541.9 703.4,550.3C694.2,558.8 684.9,567.7 675.7,575.8C666.6,583.7 655.6,591.6 647.9,598.9C641.2,605.3 634.4,613.9 629.4,619.7C625.5,624.2 622.1,629.7 617.9,633.5C613.8,637.3 609.0,641.1 604.0,642.8C599.0,644.5 593.1,645.1 587.8,643.9C582.4,642.8 576.2,639.8 571.7,635.9C567.0,631.8 563.2,624.8 560.1,619.7C557.3,615.0 555.0,609.8 552.8,605.1C550.8,600.6 548.5,596.2 547.4,591.5C546.3,586.5 548.0,580.3 546.1,575.2C543.1,567.2 535.1,554.1 529.7,543.9C524.5,533.9 519.3,524.0 514.1,514.0L508.0,534.4L495.4,577.0C494.7,582.7 493.5,588.9 493.3,594.0C493.1,598.5 493.4,603.1 494.0,607.6C494.8,613.3 496.9,621.2 498.1,628.0C499.5,635.9 500.8,646.1 502.1,655.2C503.5,664.3 504.7,673.4 506.2,682.4C507.7,691.5 509.8,700.5 511.0,709.6C512.7,722.5 514.7,747.8 516.4,760.0C517.5,767.7 520.2,775.1 521.2,782.8C524.8,810.3 533.5,879.3 538.3,925.5C542.9,970.3 546.9,1029.0 549.7,1060.0C551.3,1077.2 554.1,1094.2 555.4,1111.4C557.0,1130.9 557.9,1155.2 559.2,1177.0C554.1,1179.0 549.2,1181.1 544.0,1182.8C537.7,1184.8 529.0,1187.7 521.2,1189.0C512.6,1190.5 502.2,1191.4 492.6,1191.3C482.6,1191.2 470.7,1189.9 461.2,1188.5C452.5,1187.2 443.6,1184.7 435.5,1182.8C427.9,1181.0 420.3,1179.0 412.7,1177.0L412.7,1152.8L410.4,725.7L410.0,610.8L404.2,458.7L429.7,345.0Z" fill="#ebebee" />
<path d="M356.4,342.7C354.0,346.7 350.9,350.3 349.2,354.7C347.4,359.4 346.5,365.4 345.5,370.8C344.5,376.6 343.7,383.1 343.2,389.3C342.7,396.3 342.4,405.5 342.5,412.5C342.7,418.6 343.3,424.8 344.2,430.9C345.2,438.3 347.0,447.9 348.8,456.4C350.9,466.4 354.2,479.9 356.9,491.0C359.5,501.8 362.6,513.6 365.0,523.4C367.0,532.2 368.8,541.1 370.7,550.0L417.0,540.7C418.9,534.2 421.1,527.7 422.7,521.1C425.1,512.0 428.3,497.6 430.8,486.4C433.2,475.7 436.0,464.1 437.8,454.1C439.4,444.9 441.0,434.0 441.7,426.3C442.2,420.2 442.1,414.0 441.9,407.8C441.7,400.9 441.2,391.7 440.3,384.7C439.5,378.5 438.2,371.8 436.6,366.2C435.1,361.1 432.7,355.1 430.8,351.2C429.4,348.2 427.3,345.5 425.5,342.7L356.4,342.7Z" fill="#dbbc24" />
<path d="M359.9,365.1C363.9,367.0 367.6,369.6 371.9,370.8C377.0,372.4 384.2,374.0 390.4,374.3C396.5,374.6 402.8,374.0 408.9,372.7C415.0,371.4 421.2,368.4 427.4,366.2" fill="none" stroke="#e39a5a" stroke-width="0.8" stroke-linecap="round" stroke-linejoin="round" stroke-dasharray="1.2 1.2" opacity="0.8"/>
<path d="M319.9,359.3C317.2,363.9 314.3,368.4 311.8,373.2C309.1,378.2 305.6,383.6 303.7,389.3C301.6,395.7 300.6,404.0 299.1,411.3L324.5,401.4L304.9,441.3C311.8,456.4 318.7,471.4 325.7,486.4C333.8,503.8 344.2,525.7 353.4,545.4" fill="none" stroke="#c4c3cf" stroke-width="2.3" stroke-linecap="round" stroke-linejoin="round" />
<path d="M464.3,359.3C467.4,363.9 471.0,368.3 473.6,373.2C476.5,378.6 479.6,385.3 481.7,391.7C483.8,398.0 484.8,404.7 486.3,411.3L458.6,400.9L480.5,442.5C472.8,454.1 464.3,466.8 457.4,477.2C451.2,486.4 443.8,494.9 438.9,504.9C433.5,515.9 429.7,530.3 425.1,543.0" fill="none" stroke="#c4c3cf" stroke-width="2.3" stroke-linecap="round" stroke-linejoin="round" />
<path d="M436.6,514.2L436.6,535.0" fill="none" stroke="#c4c3cf" stroke-width="1.2" stroke-linecap="round" stroke-linejoin="round" />
<path d="M356.8,269.3C356.8,286.2 356.9,307.3 356.9,320.0C356.9,328.5 356.9,336.9 356.9,345.4C360.3,348.5 363.3,352.3 367.3,354.7C371.3,357.1 376.9,358.7 381.1,359.8C384.9,360.7 388.8,361.0 392.7,361.1C396.5,361.3 400.5,361.1 404.2,360.4C408.1,359.8 412.3,358.3 415.8,357.0C419.0,355.7 422.0,353.9 425.1,352.4C425.1,341.6 425.0,328.4 425.1,320.0C425.1,314.0 425.2,307.9 425.3,301.9L356.8,269.3Z" fill="#e18f78" />
<path d="M331.8,186.6C329.9,182.8 324.4,180.3 320.9,180.1C317.5,179.9 313.3,182.5 311.1,185.5C308.8,188.8 307.1,194.8 306.8,199.7C306.4,204.6 307.5,210.4 308.9,214.9C310.3,219.2 312.8,223.7 315.5,226.9C318.1,230.0 322.0,233.0 325.3,234.1C328.4,235.1 333.2,236.1 335.1,233.4C337.2,230.2 338.7,221.2 338.3,214.9C337.8,207.1 334.7,192.4 331.8,186.6Z" fill="#f4ae98" />
<path d="M315.5,191.0C315.1,194.6 314.0,198.2 314.4,201.9C314.9,205.8 317.0,210.6 318.3,214.9" fill="none" stroke="#ea9f8f" stroke-width="2.2" stroke-linecap="round" stroke-linejoin="round" />
<path d="M323.1,189.9C324.2,194.6 326.0,199.2 326.3,204.0C326.7,208.9 325.6,214.2 325.3,219.3" fill="none" stroke="#ea9f8f" stroke-width="2.2" stroke-linecap="round" stroke-linejoin="round" />
<path d="M345.9,134.4C348.6,126.4 356.3,119.4 364.4,117.0C375.5,113.8 396.3,114.8 412.3,114.8C429.3,114.8 455.1,113.0 466.7,117.0C475.0,119.9 478.4,130.8 481.9,138.8C485.3,146.7 486.6,156.0 487.3,164.9C488.1,174.3 486.2,185.9 486.2,195.3C486.3,204.0 488.1,213.1 487.8,221.4C487.4,229.5 486.1,237.6 484.1,245.4C482.0,253.3 478.6,261.7 475.4,269.3C472.2,276.7 468.5,284.9 464.5,291.0C460.9,296.7 456.5,302.6 451.4,306.3C446.4,310.0 440.2,312.2 434.0,313.2C427.5,314.3 419.4,314.3 412.3,312.8C405.0,311.3 397.0,307.4 390.5,304.1C384.4,301.0 378.7,297.2 373.1,293.2C367.5,289.2 361.4,285.4 356.8,280.2C351.7,274.4 346.5,265.7 342.7,258.4C339.0,251.5 335.1,243.9 334.0,236.7C332.9,229.5 335.0,222.1 336.1,214.9C337.6,205.8 341.3,193.3 342.7,182.3C344.3,168.9 342.3,145.3 345.9,134.4Z" fill="#f4ae98" />
<path d="M338.3,205.1C341.3,207.5 344.2,210.1 347.3,212.3C350.8,214.7 354.9,217.4 358.9,219.6C363.3,222.0 369.1,225.0 373.9,227.1C378.4,229.1 383.9,231.6 387.8,232.3C390.9,232.8 393.9,231.4 397.0,230.9C400.5,230.4 404.7,229.3 408.6,229.2C412.8,229.0 418.2,229.7 422.5,230.0C426.3,230.2 430.2,230.7 434.0,230.8C437.9,230.8 441.7,230.7 445.6,230.3C449.4,229.9 453.2,228.8 457.1,228.5C461.9,228.0 469.4,227.6 474.5,227.7C478.8,227.7 483.1,228.5 487.4,228.9C486.3,234.4 485.7,240.0 484.1,245.4C482.1,252.1 478.6,261.7 475.4,269.3C472.2,276.7 468.5,284.9 464.5,291.0C460.9,296.7 456.5,302.6 451.4,306.3C446.4,310.0 440.2,312.2 434.0,313.2C427.5,314.3 419.4,314.3 412.3,312.8C405.0,311.3 397.0,307.4 390.5,304.1C384.4,301.0 378.7,297.2 373.1,293.2C367.5,289.2 361.4,285.4 356.8,280.2C351.7,274.4 346.5,265.7 342.7,258.4C339.0,251.5 336.9,243.9 334.0,236.7L338.3,205.1Z" fill="url(#pbeard)" />
<path d="M393.8,245.4C394.7,242.6 398.3,240.3 401.4,239.9C406.3,239.4 415.9,241.7 423.2,242.1C430.4,242.5 438.4,242.8 444.9,242.1C450.9,241.4 457.8,237.7 462.3,237.7C465.9,237.7 470.6,239.0 472.1,242.1C473.6,245.2 472.5,251.6 471.4,256.2C470.4,261.1 468.6,266.9 465.6,271.5C462.4,276.2 457.8,281.4 452.5,284.5C447.3,287.6 440.0,290.0 434.0,290.0C428.0,290.0 421.7,287.6 416.6,284.5C411.6,281.4 407.0,276.2 403.6,271.5C400.2,266.9 397.6,260.6 396.0,256.2C394.7,252.8 392.9,248.1 393.8,245.4Z" fill="#f4ae98" />
<path d="M416.6,274.7C422.4,276.5 428.0,280.3 434.0,280.2C440.2,280.0 447.1,275.8 453.6,273.6" fill="none" stroke="#e99a86" stroke-width="2.5" stroke-linecap="round" stroke-linejoin="round" />
<path d="M409.0,246.5C414.5,248.4 421.2,251.2 425.3,252.3C428.1,253.1 431.1,253.4 434.0,253.2C437.7,252.9 442.9,252.0 447.1,250.8C451.2,249.6 455.1,247.6 459.0,246.0C458.0,249.4 457.4,253.2 455.8,256.2C454.2,259.3 452.3,262.7 449.3,264.5C445.6,266.7 438.9,269.2 434.0,269.3C429.1,269.4 423.3,266.9 419.9,264.9C417.0,263.3 415.1,260.2 413.4,257.3C411.6,254.2 410.5,250.1 409.0,246.5Z" fill="#a5125f" />
<path d="M419.9,263.9C422.4,262.9 424.8,261.5 427.5,261.0C430.6,260.5 435.1,260.3 438.4,260.6C441.4,260.9 445.0,262.2 447.1,262.8C448.4,263.1 449.7,263.5 451.0,263.9C449.0,265.1 447.2,266.8 444.9,267.6C442.1,268.5 437.3,269.3 434.0,269.3C431.1,269.3 427.7,268.5 425.3,267.6C423.3,266.8 421.7,265.1 419.9,263.9Z" fill="#ef6b8c" />
<path d="M409.0,246.5C414.5,248.4 421.2,251.2 425.3,252.3C428.1,253.1 431.1,253.4 434.0,253.2C437.7,252.9 442.9,252.0 447.1,250.8C451.2,249.6 455.1,247.6 459.0,246.0C458.3,248.3 458.6,251.3 456.9,253.0C454.9,254.9 450.6,256.5 447.1,257.3C443.3,258.2 438.4,258.5 434.0,258.4C429.7,258.3 424.6,257.8 421.0,256.7C417.8,255.7 414.3,253.6 412.3,251.9C410.7,250.5 410.1,248.3 409.0,246.5Z" fill="#ffffff" />
<path d="M442.3,186.6C442.2,189.5 441.4,192.5 441.9,195.3C442.3,198.2 443.2,201.5 444.9,204.0C446.7,206.8 450.8,209.7 452.5,211.6C453.6,212.9 455.7,214.4 455.1,216.0C454.6,217.6 451.7,220.1 449.3,221.0C446.5,222.0 441.8,222.4 438.4,221.9C434.9,221.3 431.9,219.0 428.6,217.5" fill="none" stroke="#ea9589" stroke-width="2.2" stroke-linecap="round" stroke-linejoin="round" />
<ellipse cx="409.0" cy="184.2" rx="22.4" ry="26.2" fill="#ffffff" fill-opacity="0.3"/>
<ellipse cx="464.7" cy="184.2" rx="16.9" ry="26.2" fill="#ffffff" fill-opacity="0.3"/>
<path d="M388.3,180.1C389.4,177.9 393.7,175.4 397.0,174.7C400.7,173.9 406.5,174.0 410.1,175.3C413.6,176.5 418.4,179.8 418.8,182.3C419.2,184.7 415.3,188.5 412.3,189.9C409.0,191.3 402.9,191.3 399.2,191.0C396.1,190.7 392.3,189.5 390.5,187.7C388.7,185.9 387.3,182.3 388.3,180.1Z" fill="#ffffff" />
<path d="M448.8,182.3C449.7,180.2 453.2,177.3 455.8,176.2C458.4,175.0 462.1,174.7 464.5,175.3C466.8,176.0 469.3,178.0 469.9,180.1C470.6,182.2 470.4,186.1 468.4,187.7C466.2,189.5 459.9,190.9 456.9,191.0C454.5,191.1 451.7,189.8 450.3,188.4C449.0,186.9 448.0,184.2 448.8,182.3Z" fill="#ffffff" />
<circle cx="409.2" cy="183.4" r="7.2" fill="#4ab3c2"/>
<circle cx="410.3" cy="184.2" r="3.6" fill="#2a1b4d"/>
<circle cx="412.9" cy="180.5" r="1.6" fill="#ffffff"/>
<circle cx="464.1" cy="183.4" r="5.9" fill="#4ab3c2"/>
<circle cx="465.1" cy="184.2" r="2.9" fill="#2a1b4d"/>
<circle cx="467.7" cy="180.5" r="1.3" fill="#ffffff"/>
<ellipse cx="409.0" cy="184.2" rx="22.4" ry="26.2" fill="none" stroke="#8a1d4e" stroke-width="2.1"/>
<ellipse cx="464.7" cy="184.2" rx="16.9" ry="26.2" fill="none" stroke="#8a1d4e" stroke-width="2.1"/>
<path d="M431.2,184.9C434.0,184.5 436.7,183.5 439.5,183.6C442.3,183.7 445.3,184.7 448.2,185.3" fill="none" stroke="#8a1d4e" stroke-width="2.0" stroke-linecap="round" stroke-linejoin="round" />
<path d="M386.8,178.4L338.3,187.1" fill="none" stroke="#8a1d4e" stroke-width="2.0" stroke-linecap="round" stroke-linejoin="round" />
<path d="M481.5,180.1L486.2,179.7" fill="none" stroke="#8a1d4e" stroke-width="2.0" stroke-linecap="round" stroke-linejoin="round" />
<path d="M378.1,160.1C380.8,157.0 382.7,153.0 386.2,150.7C389.7,148.5 394.9,146.7 399.2,146.4C403.6,146.0 409.3,147.2 412.3,148.6C414.6,149.6 415.5,152.5 417.1,154.4C414.7,153.7 412.5,152.7 410.1,152.3C407.1,151.7 402.8,151.0 399.2,151.4C395.6,151.7 391.8,153.0 388.3,154.4C384.8,155.9 381.5,158.2 378.1,160.1Z" fill="#5c3006" />
<path d="M446.4,154.4C448.5,152.1 449.9,148.8 452.5,147.5C455.2,146.1 459.4,145.8 462.3,146.4C465.2,146.9 467.9,148.6 469.9,150.7C472.1,153.0 473.6,157.0 475.4,160.1C473.2,158.4 471.2,156.4 468.8,155.1C466.3,153.7 462.9,152.3 460.1,151.8C457.6,151.4 454.8,151.8 452.5,152.3C450.4,152.7 448.5,153.7 446.4,154.4Z" fill="#5c3006" />
<path d="M339.4,206.2C337.6,201.5 336.0,196.1 334.0,192.1C332.2,188.6 329.6,184.3 327.4,182.3C325.7,180.7 323.2,179.2 320.9,179.7C318.0,180.2 313.7,183.6 310.0,185.5C308.6,180.1 306.6,174.6 305.7,169.2C304.8,164.0 304.4,158.7 304.7,153.5C305.0,147.2 306.1,137.5 307.5,131.7C308.5,127.1 310.8,122.5 312.7,118.6C314.5,114.9 316.9,110.8 318.8,108.1C320.3,106.0 322.4,103.8 324.0,102.4C325.3,101.3 327.1,100.4 328.4,99.8C329.5,99.3 330.6,99.1 331.7,98.8C332.1,97.2 332.4,95.6 333.0,94.1C333.6,92.3 334.3,89.9 335.4,88.0C336.7,85.8 338.6,83.2 340.6,81.0C343.0,78.6 346.2,75.5 349.4,73.2C352.6,70.8 356.3,68.9 359.8,67.1C363.2,65.3 366.7,63.7 370.3,62.4C374.0,61.1 378.3,60.0 381.7,59.2C384.5,58.5 387.5,58.4 390.4,57.7C393.3,57.0 396.4,55.7 399.1,55.0C401.7,54.3 404.4,53.7 407.0,53.4C409.6,53.0 412.6,52.9 414.8,53.0C416.8,53.1 418.7,53.5 420.7,53.7L412.2,61.0C414.6,60.5 416.8,59.8 419.2,59.5C422.1,59.0 426.2,58.6 429.7,58.5C433.2,58.4 436.7,58.4 440.2,58.8C443.8,59.2 447.8,59.9 451.5,61.0C455.3,62.0 459.5,63.8 462.9,65.3C465.9,66.7 468.9,68.6 471.6,70.1C474.0,71.5 476.4,72.9 478.7,74.2L459.4,80.7C462.6,81.7 465.9,82.3 469.0,83.7C472.0,85.0 475.1,87.0 477.7,88.9C480.2,90.7 482.6,92.8 484.7,95.0C486.7,97.1 488.6,100.1 489.9,102.0C490.9,103.4 491.8,105.0 492.7,106.5L480.5,106.7C481.9,108.6 483.6,110.4 484.7,112.5C486.0,114.9 487.3,118.2 488.2,121.2C489.1,124.4 489.9,128.1 490.4,131.7C490.9,135.6 491.2,141.4 491.2,144.8C491.3,147.1 491.0,149.5 490.6,151.8C489.9,155.4 488.4,161.2 487.3,166.0C485.9,161.8 484.1,157.3 482.9,153.5C481.9,150.0 481.5,146.4 480.3,143.0C479.2,139.5 477.4,135.7 476.0,132.5C474.6,129.6 473.0,126.2 471.6,123.8C470.4,121.8 469.0,120.0 467.7,118.1C465.2,119.3 462.8,120.8 460.2,121.6C457.5,122.5 454.4,123.0 451.5,123.4C447.9,123.9 442.8,124.4 438.4,124.7C433.3,125.0 426.8,125.1 421.0,125.1C415.1,125.1 408.6,124.9 403.5,124.7C399.1,124.5 394.8,124.2 390.4,123.8C386.0,123.4 380.9,122.9 377.3,122.5C374.4,122.1 371.5,121.6 368.6,121.2C366.5,122.9 364.4,124.5 362.5,126.4C360.3,128.6 357.5,131.7 355.5,134.3C353.5,136.8 351.7,139.5 350.2,142.1C348.8,144.6 347.5,147.3 346.7,150.0C346.0,152.7 345.7,155.5 345.5,158.3C345.3,161.9 345.9,167.1 345.5,171.4C345.0,176.1 343.6,181.5 342.7,186.6C341.6,192.4 340.5,199.7 339.4,206.2Z" fill="#5c3006" />
<path d="M449.3,491.5L470.1,487.8" fill="none" stroke="#d6d5de" stroke-width="1.4" stroke-linecap="round" stroke-linejoin="round" />
<path d="M446.3,499.1L470.8,495.0L471.7,510.0L447.2,514.2L446.3,499.1Z" fill="#ffffff" stroke="#3aaeb0" stroke-width="1.6" stroke-linejoin="round"/>
<path d="M471.3,470.2C471.4,469.1 472.0,467.7 472.9,467.2C473.7,466.7 475.3,466.7 476.4,467.2C477.4,467.7 479.0,468.9 479.1,470.2C479.4,472.7 479.4,479.9 478.2,481.8C477.0,483.6 472.9,483.6 471.7,481.8C470.6,479.9 471.1,472.7 471.3,470.2Z" fill="#3b1d2c" />
<path d="M470.8,481.8C471.3,479.4 473.6,477.5 475.9,476.7C481.0,475.0 495.9,471.9 501.3,471.4C503.9,471.2 507.1,472.5 508.7,473.7C510.2,474.7 511.3,476.6 511.3,478.3C511.1,486.6 509.1,514.5 507.8,523.4C507.4,526.4 505.5,529.8 503.6,531.5C501.9,533.2 499.1,534.4 496.7,533.8C490.9,532.5 473.9,525.9 469.0,523.4C467.5,522.6 467.0,520.4 467.1,518.8C467.4,511.8 469.4,488.8 470.8,481.8Z" fill="#e7e5f1" />
<path d="M476.4,481.8C477.7,480.6 478.8,478.7 480.5,478.3C485.6,477.1 502.0,474.4 507.1,474.4C509.0,474.4 509.7,477.0 511.0,478.3C510.0,493.4 508.8,514.7 507.8,523.4C507.5,526.0 505.8,528.3 504.8,530.8C502.1,531.3 499.3,532.9 496.7,532.2C491.3,530.6 480.5,525.1 472.4,521.5L476.4,481.8Z" fill="url(#pphone)" />
<path d="M426.2,543.0C430.4,538.0 434.5,532.1 438.9,528.0C443.0,524.3 449.4,521.4 452.8,518.8C455.2,516.9 458.0,514.8 459.3,512.3C460.5,509.8 459.6,505.9 460.4,503.8C461.0,502.1 462.7,499.8 463.9,499.6C465.1,499.4 467.2,501.1 467.6,502.6C468.1,504.8 467.3,509.8 467.1,513.0C466.9,515.9 466.5,518.7 466.2,521.5C472.5,520.0 479.3,518.9 485.1,516.9C490.7,515.1 496.1,512.2 501.3,510.0C506.3,507.9 513.3,504.4 516.3,503.8C517.7,503.5 520.1,504.7 519.8,506.1C519.4,508.2 516.4,513.3 514.0,516.5C511.5,519.7 507.7,523.4 504.8,525.7C502.4,527.7 499.4,528.8 496.7,530.3C500.2,530.7 504.7,529.9 507.1,531.5C509.5,533.0 510.5,537.1 511.0,539.6C511.6,541.8 510.7,544.2 510.6,546.5C511.8,548.4 514.1,550.0 514.3,552.3C514.5,555.0 512.7,559.2 512.0,562.7C510.3,565.0 509.3,567.8 507.1,569.6C503.8,572.3 497.4,576.5 492.1,578.9C486.5,581.4 479.4,583.1 473.6,584.6C468.3,586.1 462.7,587.1 457.4,588.1C452.2,589.1 446.9,590.0 441.7,590.9C440.0,583.8 438.9,576.6 436.6,569.6C434.0,561.7 429.7,551.9 426.2,543.0Z" fill="#f4ae98" />
</g>
</svg>
</body></html>
